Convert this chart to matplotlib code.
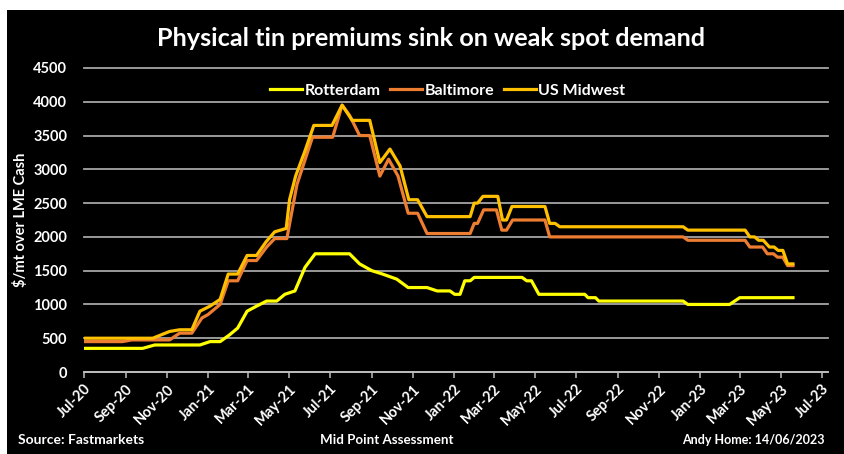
import matplotlib
matplotlib.use("Agg")
import matplotlib.pyplot as plt
import matplotlib.dates as mdates
import numpy as np
from matplotlib.patches import Rectangle

plt.rcParams['font.family'] = ['Lato', 'DejaVu Sans']

# Rotterdam premium ($/mt over LME cash)
rotterdam_dates = ['2020-07-01', '2020-09-26', '2020-10-14', '2020-12-20', '2021-01-04',
                   '2021-01-19', '2021-02-02', '2021-02-14', '2021-02-28', '2021-03-14',
                   '2021-03-29', '2021-04-13', '2021-04-25', '2021-05-10', '2021-05-25',
                   '2021-06-09', '2021-07-30', '2021-08-14', '2021-09-01', '2021-09-17',
                   '2021-10-08', '2021-10-25', '2021-11-22', '2021-12-07', '2021-12-26',
                   '2022-01-02', '2022-01-10', '2022-01-17', '2022-01-25', '2022-01-31',
                   '2022-04-12', '2022-04-19', '2022-04-26', '2022-05-07', '2022-07-14',
                   '2022-07-19', '2022-07-30', '2022-08-04', '2022-12-07', '2022-12-14',
                   '2023-02-14', '2023-03-01', '2023-05-19']
rotterdam = [350, 350, 400, 400, 450,
             450, 550, 650, 900, 975,
             1050, 1050, 1150, 1200, 1550,
             1750, 1750, 1600, 1500, 1450,
             1375, 1250, 1250, 1200, 1200,
             1150, 1150, 1350, 1350, 1400,
             1400, 1350, 1350, 1150, 1150,
             1100, 1100, 1050, 1050, 1000,
             1000, 1100, 1100]

# Baltimore premium
baltimore_dates = ['2020-07-01', '2020-08-27', '2020-09-10', '2020-11-05', '2020-11-20',
                   '2020-12-08', '2020-12-23', '2021-01-01', '2021-01-19', '2021-01-31',
                   '2021-02-14', '2021-02-28', '2021-03-14', '2021-03-29', '2021-04-10',
                   '2021-04-28', '2021-05-13', '2021-06-05', '2021-07-05', '2021-07-19',
                   '2021-07-30', '2021-08-14', '2021-08-29', '2021-09-13', '2021-09-26',
                   '2021-10-10', '2021-10-25', '2021-11-08', '2021-11-22', '2022-01-25',
                   '2022-01-31', '2022-02-05', '2022-02-14', '2022-03-05', '2022-03-13',
                   '2022-03-20', '2022-03-29', '2022-05-16', '2022-05-23', '2022-12-07',
                   '2022-12-14', '2023-03-09', '2023-03-16', '2023-04-04', '2023-04-11',
                   '2023-04-20', '2023-04-26', '2023-05-04', '2023-05-11', '2023-05-19']
baltimore = [450, 450, 475, 475, 575,
             575, 800, 850, 1000, 1350,
             1350, 1650, 1650, 1850, 1975,
             1975, 2775, 3475, 3475, 3950,
             3800, 3500, 3500, 2900, 3150,
             2900, 2350, 2350, 2050, 2050,
             2200, 2200, 2400, 2400, 2100,
             2100, 2250, 2250, 2000, 2000,
             1950, 1950, 1850, 1850, 1750,
             1750, 1700, 1700, 1575, 1575]

# US Midwest premium
midwest_dates = ['2020-07-01', '2020-10-11', '2020-11-05', '2020-11-20', '2020-12-08',
                 '2020-12-20', '2021-01-04', '2021-01-19', '2021-01-31', '2021-02-14',
                 '2021-02-28', '2021-03-14', '2021-03-28', '2021-04-10', '2021-04-27',
                 '2021-05-02', '2021-05-11', '2021-05-25', '2021-06-07', '2021-07-04',
                 '2021-07-19', '2021-08-03', '2021-08-29', '2021-09-13', '2021-09-28',
                 '2021-10-13', '2021-10-26', '2021-11-08', '2021-11-22', '2022-01-25',
                 '2022-01-31', '2022-02-05', '2022-02-13', '2022-03-07', '2022-03-14',
                 '2022-03-20', '2022-03-28', '2022-05-16', '2022-05-23', '2022-05-31',
                 '2022-06-07', '2022-12-07', '2022-12-14', '2023-03-09', '2023-03-16',
                 '2023-03-23', '2023-03-29', '2023-04-05', '2023-04-14', '2023-04-21',
                 '2023-04-27', '2023-05-04', '2023-05-11', '2023-05-19']
midwest = [500, 500, 600, 625, 625,
           900, 975, 1075, 1450, 1450,
           1725, 1725, 1925, 2075, 2125,
           2550, 2900, 3275, 3650, 3650,
           3950, 3725, 3725, 3100, 3300,
           3050, 2550, 2550, 2300, 2300,
           2500, 2500, 2600, 2600, 2250,
           2250, 2450, 2450, 2200, 2200,
           2150, 2150, 2100, 2100, 2000,
           2000, 1950, 1950, 1850, 1850,
           1800, 1800, 1600, 1600]

y_ticks = [0, 500, 1000, 1500, 2000, 2500, 3000, 3500, 4000, 4500]

W, H = 845, 454
fig = plt.figure(figsize=(W / 100, H / 100), dpi=100, facecolor='white')

# black panel behind everything
fig.add_artist(Rectangle((7 / W, 0), 1 - 7 / W, 1 - 10 / H, transform=fig.transFigure,
                         facecolor='black', edgecolor='none', zorder=-10))

ax = fig.add_axes([84 / W, 1 - 372 / H, (828 - 84) / W, (372 - 68) / H])
ax.set_facecolor('black')

def to_dates(lst):
    return np.array(lst, dtype='datetime64[D]')

ax.plot(to_dates(rotterdam_dates), rotterdam, color='#FFFF00', lw=2.3, label='Rotterdam',
        solid_joinstyle='round', zorder=3)
ax.plot(to_dates(baltimore_dates), baltimore, color='#ED7D31', lw=2.3, label='Baltimore',
        solid_joinstyle='round', zorder=4)
ax.plot(to_dates(midwest_dates), midwest, color='#FFC000', lw=2.3, label='US Midwest',
        solid_joinstyle='round', zorder=5)

ax.set_ylim(0, 4500)
ax.set_xlim(np.datetime64('2020-07-01'), np.datetime64('2023-07-10'))
ax.set_yticks(y_ticks)
ax.yaxis.grid(True, color='#A6A6A6', lw=1.3)
ax.set_axisbelow(True)
for g in ax.get_ygridlines():
    g.set_clip_on(False)

ax.xaxis.set_major_locator(mdates.MonthLocator(bymonth=[1, 3, 5, 7, 9, 11]))
ax.xaxis.set_major_formatter(mdates.DateFormatter('%b-%y'))

for s in ['top', 'right', 'left']:
    ax.spines[s].set_visible(False)
ax.spines['bottom'].set_color('#BFBFBF')
ax.spines['bottom'].set_linewidth(1.3)

ax.tick_params(axis='y', length=0, pad=12, labelcolor='white', labelsize=10.5)
ax.tick_params(axis='x', length=4, width=1.1, color='#BFBFBF', direction='out',
               labelcolor='white', labelsize=10.5, pad=3)
for lab in ax.get_yticklabels():
    lab.set_fontweight('bold')
for lab in ax.get_xticklabels():
    lab.set_fontweight('bold')
    lab.set_rotation(45)
    lab.set_ha('right')
    lab.set_va('top')
    lab.set_rotation_mode('anchor')

ax.set_ylabel('$/mt over LME Cash', color='white', fontweight='bold', fontsize=10.5)
ax.yaxis.set_label_coords((28 - 84) / 744, 0.5)

leg = ax.legend(loc='upper center', bbox_to_anchor=(0.489, 0.995), ncol=3, frameon=False,
                handlelength=2.0, handletextpad=0.15, columnspacing=0.6,
                prop={'weight': 'bold', 'size': 11.5})
for t in leg.get_texts():
    t.set_color('white')

fig.text(431 / W, 1 - 38 / H, 'Physical tin premiums sink on weak spot demand',
         color='white', fontsize=18.2, fontweight='bold', ha='center', va='center')

fig.text(18 / W, 1 - 440 / H, 'Source: Fastmarkets', color='white', fontsize=10,
         fontweight='bold', ha='left', va='center')
fig.text(387 / W, 1 - 440 / H, 'Mid Point Assessment', color='white', fontsize=9.6,
         fontweight='bold', ha='center', va='center')
fig.text(825 / W, 1 - 440 / H, 'Andy Home: 14/06/2023', color='white', fontsize=9,
         fontweight='bold', ha='right', va='center')

fig.savefig('out.png', dpi=100, facecolor='white')
